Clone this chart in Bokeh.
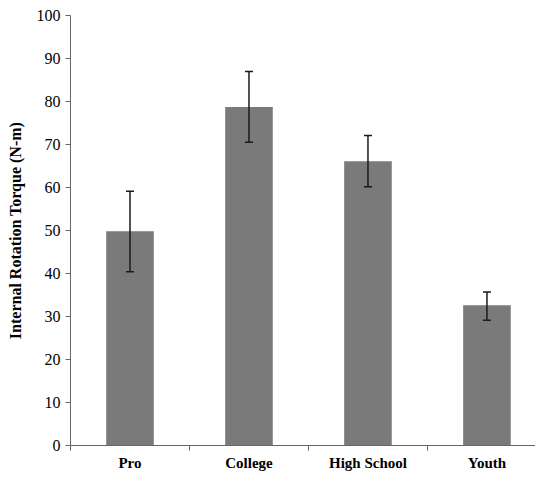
from bokeh.plotting import figure
from bokeh.models import FixedTicker, ColumnDataSource, Whisker, Range1d, TeeHead
from bokeh.embed import file_html
from bokeh.resources import INLINE

categories = ["Pro", "College", "High School", "Youth"]
means = [49.8, 78.7, 66.1, 32.6]
err_upper = [59.1, 87.0, 72.1, 35.7]
err_lower = [40.4, 70.5, 60.2, 29.1]
y_ticks = [0, 10, 20, 30, 40, 50, 60, 70, 80, 90, 100]

xc = [i + 0.5 for i in range(len(categories))]
src = ColumnDataSource(dict(x=xc, top=means, upper=err_upper, lower=err_lower))

p = figure(width=535, height=479, output_backend="svg", toolbar_location=None,
           x_range=Range1d(0, 3.908), y_range=Range1d(0, 100),
           min_border_left=70, min_border_top=15, min_border_right=0, min_border_bottom=34)
p.outline_line_color = None
p.xgrid.grid_line_color = None
p.ygrid.grid_line_color = None

p.vbar(x="x", top="top", width=0.4, bottom=0, source=src,
       fill_color="#7a7a7a", line_color=None)

w = Whisker(base="x", upper="upper", lower="lower", source=src,
            line_color="#1a1a1a", line_width=1.5, level="overlay",
            upper_head=TeeHead(size=8, line_color="#1a1a1a", line_width=1.5),
            lower_head=TeeHead(size=8, line_color="#1a1a1a", line_width=1.5))
p.add_layout(w)

# x axis
p.xaxis.ticker = FixedTicker(ticks=xc, minor_ticks=[0, 1, 2, 3])
p.xaxis.major_label_overrides = {x: c for x, c in zip(xc, categories)}
p.xaxis.major_tick_line_color = None
p.xaxis.minor_tick_in = 0
p.xaxis.minor_tick_out = 5
p.xaxis.minor_tick_line_color = "#666666"
p.xaxis.axis_line_color = "#666666"
p.xaxis.major_label_text_font = "Liberation Serif"
p.xaxis.major_label_text_font_style = "bold"
p.xaxis.major_label_text_font_size = "15px"
p.xaxis.major_label_text_color = "#000000"
p.xaxis.major_label_standoff = 3

# y axis
p.yaxis.ticker = FixedTicker(ticks=y_ticks, minor_ticks=[])
p.yaxis.major_tick_in = 0
p.yaxis.major_tick_out = 5
p.yaxis.major_tick_line_color = "#666666"
p.yaxis.axis_line_color = "#666666"
p.yaxis.major_label_text_font = "Liberation Serif"
p.yaxis.major_label_text_font_size = "16px"
p.yaxis.major_label_text_color = "#000000"
p.yaxis.major_label_standoff = 5
p.yaxis.axis_label = "Internal Rotation Torque (N-m)"
p.yaxis.axis_label_text_font = "Liberation Serif"
p.yaxis.axis_label_text_font_style = "bold"
p.yaxis.axis_label_text_font_size = "16px"
p.yaxis.axis_label_text_color = "#000000"
p.yaxis.axis_label_standoff = 10

open("out.html", "w").write(file_html(p, INLINE))
